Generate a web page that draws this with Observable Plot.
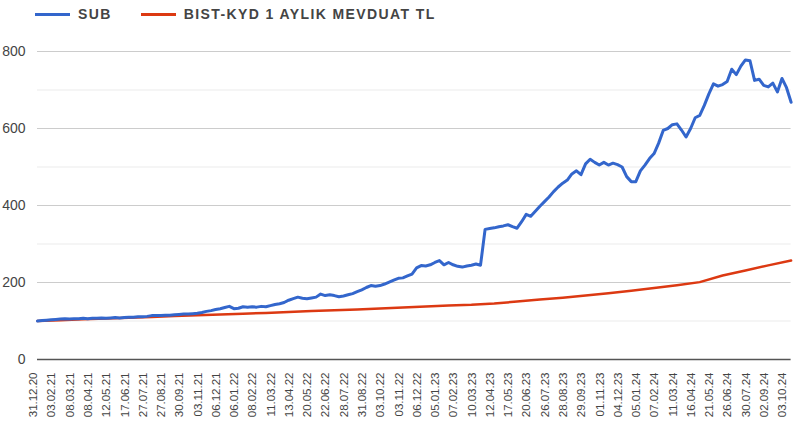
<!DOCTYPE html>
<html>
<head>
<meta charset="utf-8">
<script src="https://cdn.jsdelivr.net/npm/d3@7"></script>
<script src="https://cdn.jsdelivr.net/npm/@observablehq/plot@0.6"></script>
<style>
  body { margin: 0; background: #fff; font-family: "Liberation Sans", Arial, sans-serif; }
  #legend { height: 28px; display: flex; align-items: center; padding-left: 35px; color: #444; font-size: 14px; font-weight: bold; letter-spacing: 1.4px; }
  .sw { display: inline-block; width: 35px; height: 3px; }
  .item { display: flex; align-items: center; }
</style>
</head>
<body>
<div id="legend"></div>
<div id="chart"></div>
<script>
// x tick labels (one per category step)
const labels = ["31.12.20","03.02.21","08.03.21","08.04.21","12.05.21","17.06.21","27.07.21","27.08.21","30.09.21","03.11.21","06.12.21","06.01.22","08.02.22","11.03.22","13.04.22","20.05.22","22.06.22","28.07.22","31.08.22","03.10.22","03.11.22","06.12.22","05.01.23","07.02.23","10.03.23","12.04.23","17.05.23","20.06.23","26.07.23","28.08.23","29.09.23","01.11.23","04.12.23","05.01.24","07.02.24","11.03.24","16.04.24","21.05.24","26.06.24","30.07.24","02.09.24","03.10.24"];

const seriesNames = ["SUB", "BIST-KYD 1 AYLIK MEVDUAT TL"];
const seriesColors = ["#3366cc", "#dc3912"];

// SUB sampled every 1/4 label step
const subStep = 0.25;
const subValues = [100,101,102,103,104,105,106,105,106,106,107,106,107,107,108,107,108,109,108,109,
110,110,111,111,112,114,114,114,115,115,116,117,118,118,119,120,122,125,127,130,
132,135,138,132,133,137,136,137,136,138,137,140,143,145,148,154,158,162,159,158,
160,162,170,166,168,166,163,165,168,171,176,181,187,192,190,192,196,201,206,211,
212,217,222,238,244,243,246,252,257,246,252,246,242,240,243,245,248,245,338,340,
342,345,347,350,345,341,358,377,372,385,398,410,422,436,448,458,466,482,490,480,
508,520,512,505,512,505,510,506,500,475,462,462,490,505,522,535,562,595,600,610,
612,596,578,600,628,634,660,690,716,710,714,722,754,740,762,778,776,725,728,712,
708,718,695,730,706,668];

// BIST-KYD sampled every 1.25 label steps
const mevStep = 1.25;
const mevValues = [100,102,104.5,106.5,108.5,110.5,113,115,117,119,121,123.5,126,128,130,132.5,135,137.5,140,142,
145.5,150.5,156,160.5,166,172,178.5,185.5,193,201,218,231,244.5,257];

const yMajor = [200, 400, 600, 800];
const yMinor = [100, 300, 500, 700];

const sub = subValues.map((v, i) => ({x: i * subStep, y: v}));
const mev = mevValues.map((v, i) => ({x: i * mevStep, y: v}));

// legend
const legend = document.getElementById("legend");
seriesNames.forEach((n, i) => {
  const it = document.createElement("span");
  it.className = "item";
  it.style.marginRight = i === 0 ? "29px" : "0";
  const sw = document.createElement("span");
  sw.className = "sw";
  sw.style.background = seriesColors[i];
  sw.style.marginRight = "8px";
  const t = document.createElement("span");
  t.textContent = n;
  it.appendChild(sw); it.appendChild(t);
  legend.appendChild(it);
});

const chart = Plot.plot({
  width: 794,
  height: 393,
  marginTop: 23,
  marginBottom: 62,
  marginLeft: 37,
  marginRight: 3.4,
  style: {fontFamily: '"Liberation Sans", Arial, sans-serif', color: "#444", background: "#fff"},
  x: {domain: [0, (subValues.length - 1) * subStep]},
  y: {domain: [0, 800]},
  marks: [
    Plot.ruleY(yMinor, {stroke: "#ebebeb", strokeWidth: 1}),
    Plot.ruleY(yMajor, {stroke: "#cccccc", strokeWidth: 1}),
    Plot.axisY([0, ...yMajor], {tickSize: 0, tickPadding: 12, fontSize: 14, fill: "#444", label: null}),
    Plot.axisX(d3.range(labels.length), {tickSize: 0, tickPadding: 13, tickRotate: -90, tickFormat: i => labels[i], fontSize: 11.5, fill: "#444", dx: -4, label: null}),
    Plot.line(mev, {x: "x", y: "y", stroke: seriesColors[1], strokeWidth: 2.5}),
    Plot.line(sub, {x: "x", y: "y", stroke: seriesColors[0], strokeWidth: 3, strokeLinejoin: "round"}),
    Plot.ruleY([0], {stroke: "#555", strokeWidth: 1.5})
  ]
});
document.getElementById("chart").appendChild(chart);
</script>
</body>
</html>
